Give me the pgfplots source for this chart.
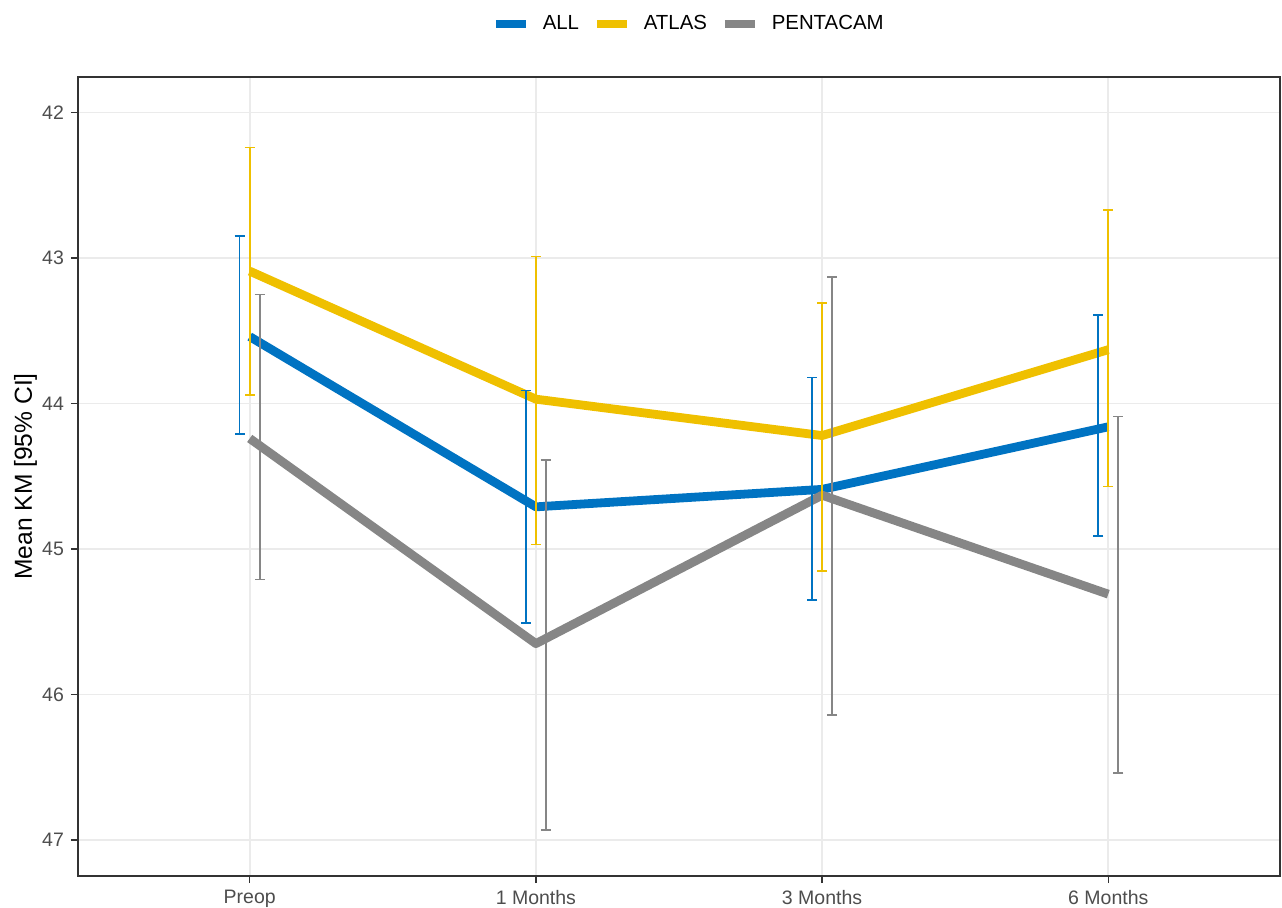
\documentclass[border=0pt]{standalone}
\usepackage{fontspec}
\setmainfont{Liberation Sans}
\usepackage{pgfplots}
\usepackage{pgfplotstable}
\pgfplotsset{compat=1.18}

\definecolor{jcoblue}{HTML}{0073C2}
\definecolor{jcoyellow}{HTML}{EFC000}
\definecolor{jcogray}{HTML}{868686}
\definecolor{gridgray}{HTML}{EBEBEB}
\definecolor{tickgray}{HTML}{4D4D4D}
\definecolor{framegray}{HTML}{333333}

% x = timepoint index, y = mean, lo/hi = 95% CI
\pgfplotstableread{
x y lo hi
0 43.54 42.85 44.21
1 44.71 43.91 45.51
2 44.59 43.82 45.35
3 44.16 43.39 44.91
}\allt
\pgfplotstableread{
x y lo hi
0 43.09 42.24 43.94
1 43.97 42.99 44.97
2 44.22 43.31 45.15
3 43.63 42.67 44.57
}\atlast
\pgfplotstableread{
x y lo hi
0 44.24 43.25 45.21
1 45.65 44.39 46.93
2 44.63 43.13 46.14
3 45.31 44.09 46.54
}\pentat

\pgfplotsset{
    meanline/.style={line width=4.4pt, line cap=butt, line join=round, mark=none},
    cibar/.style={draw=none, mark=none, forget plot, color=#1,
        error bars/.cd, y dir=both, y explicit, error mark=|,
        error bar style={line width=0.8pt, draw=#1},
        error mark options={line width=0.8pt, draw=#1, mark size=2.5pt}}
}

\begin{document}
\begin{tikzpicture}
\useasboundingbox (-39pt,-15.5pt) rectangle (602pt,438pt);
\begin{axis}[
    at={(0pt,0pt)}, anchor=south west,
    scale only axis,
    width=601pt, height=399.5pt,
    xmin=-0.6, xmax=3.6,
    ymin=41.756, ymax=47.247,
    y dir=reverse,
    xtick={0,1,2,3},
    xticklabels={Preop, 1 Months, 3 Months, 6 Months},
    ytick={42,43,44,45,46,47},
    tick pos=left,
    tick align=outside,
    major tick length=3.5pt,
    every tick/.style={framegray, line width=0.6pt},
    axis line style={framegray, line width=0.6pt},
    grid=major,
    major grid style={gridgray, line width=0.8pt},
    /pgf/number format/assume math mode=true,
    tick label style={font=\fontsize{9.75}{11}\selectfont, text=tickgray},
    ylabel={Mean KM [95\% CI]},
    every axis y label/.style={at={(axis description cs:-0.0383,0.5)},
        rotate=90, anchor=base, font=\fontsize{12.3}{14}\selectfont},
    legend columns=3,
    legend style={at={(0.509,1.0663)}, anchor=center, draw=none, fill=none,
        font=\fontsize{10.2}{11}\selectfont, inner sep=0pt,
        /tikz/every odd column/.append style={column sep=4.5pt},
        /tikz/every even column/.append style={column sep=5pt}},
    legend cell align=left,
    legend image code/.code={\draw[#1, line width=3.9pt] (0pt,0pt) -- (15pt,0pt);},
]
\addplot[meanline, jcoblue] table[x=x, y=y] {\allt};
\addlegendentry{ALL}
\addplot[meanline, jcoyellow] table[x=x, y=y] {\atlast};
\addlegendentry{ATLAS}
\addplot[meanline, jcogray] table[x=x, y=y] {\pentat};
\addlegendentry{PENTACAM}

\addplot[cibar=jcoblue] table[x expr=\thisrow{x}-0.035, y=y,
    y error plus expr=\thisrow{hi}-\thisrow{y},
    y error minus expr=\thisrow{y}-\thisrow{lo}] {\allt};
\addplot[cibar=jcoyellow] table[x=x, y=y,
    y error plus expr=\thisrow{hi}-\thisrow{y},
    y error minus expr=\thisrow{y}-\thisrow{lo}] {\atlast};
\addplot[cibar=jcogray] table[x expr=\thisrow{x}+0.035, y=y,
    y error plus expr=\thisrow{hi}-\thisrow{y},
    y error minus expr=\thisrow{y}-\thisrow{lo}] {\pentat};
\end{axis}
\end{tikzpicture}
\end{document}
